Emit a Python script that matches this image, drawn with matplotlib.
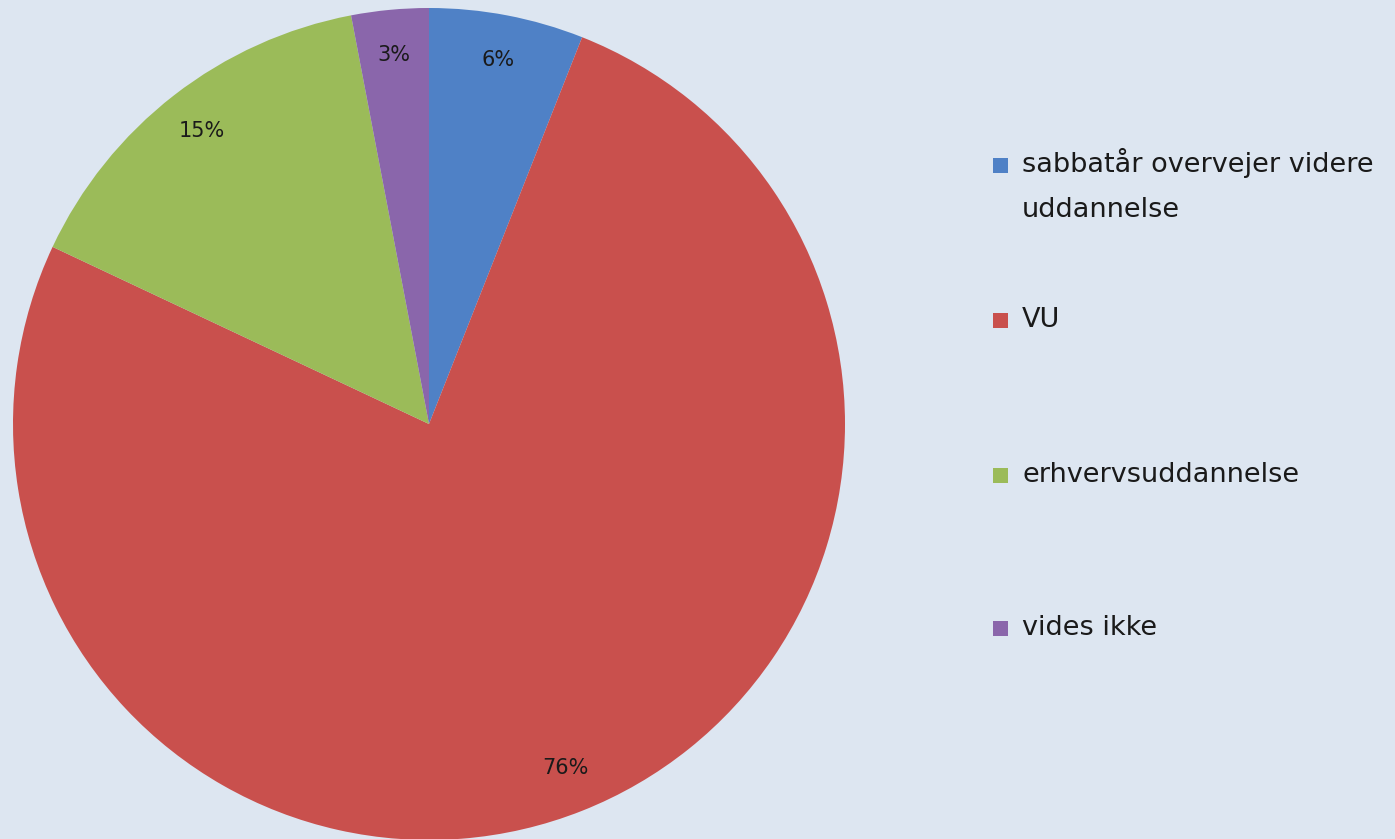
import matplotlib
matplotlib.use("Agg")
import matplotlib.pyplot as plt
from matplotlib.patches import Rectangle

categories = ["sabbatår overvejer videre\nuddannelse", "VU", "erhvervsuddannelse", "vides ikke"]
values = [6, 76, 15, 3]
colors = ["#4f81c6", "#c9504d", "#9bbb59", "#8a66ab"]
bg = "#dde6f1"

W, H = 1395, 839
fig = plt.figure(figsize=(W / 100, H / 100), dpi=100, facecolor=bg)

cx, cy, r = 429, 424, 416
ax = fig.add_axes([(cx - r) / W, (H - cy - r) / H, 2 * r / W, 2 * r / H])
ax.set_facecolor(bg)
wedges, texts, autotexts = ax.pie(
    values, colors=colors, startangle=90, counterclock=False,
    autopct=lambda p: f"{p:.0f}%", pctdistance=0.89, radius=1,
    wedgeprops=dict(linewidth=0),
    textprops=dict(fontsize=15, color="#1a1a1a"))
ax.set_xlim(-1, 1)
ax.set_ylim(-1, 1)
ax.set_aspect("equal")
ax.axis("off")

# legend (manual placement)
rows_y = [165, 320, 475, 628]
for lab, col, y in zip(categories, colors, rows_y):
    fig.patches.append(Rectangle((993 / W, (H - y - 8) / H), 15 / W, 15 / H,
                                 transform=fig.transFigure, facecolor=col,
                                 edgecolor="none"))
    if "\n" in lab:
        fig.text(1022 / W, (H - y + 17) / H, lab, fontsize=19.5, color="#1a1a1a",
                 va="top", ha="left", linespacing=1.95)
    else:
        fig.text(1022 / W, (H - y) / H, lab, fontsize=19.5, color="#1a1a1a",
                 va="center", ha="left")

fig.savefig("out.png", dpi=100, facecolor=bg)
